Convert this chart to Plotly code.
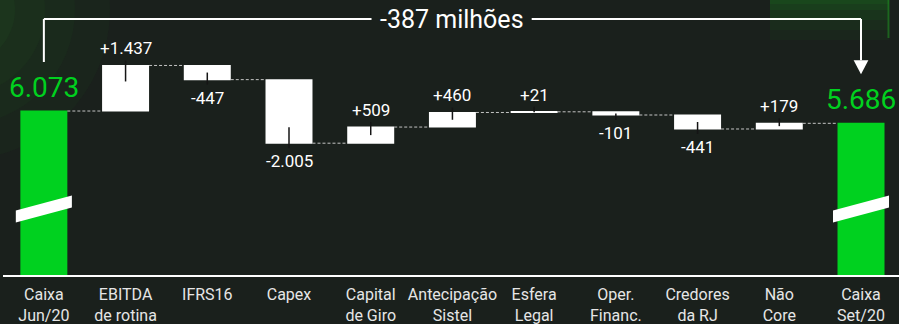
import plotly.graph_objects as go

# ---------------- data ----------------
categories = ["Caixa<br>Jun/20", "EBITDA<br>de rotina", "IFRS16", "Capex", "Capital<br>de Giro",
              "Antecipação<br>Sistel", "Esfera<br>Legal", "Oper.<br>Financ.", "Credores<br>da RJ",
              "Não<br>Core", "Caixa<br>Set/20"]
start_value = 6073
deltas = [1437, -447, -2005, 509, 460, 21, -101, -441, 179]
end_value = 5686
total_change_label = "-387 milhões"

# ---------------- styling constants ----------------
BG = "#1a201c"
GREEN = "#00d11f"
W, H = 899, 324
ML, MR, MT, MB = 3, 0, 0, 49
PLOT_W = W - ML - MR
PLOT_H = H - MT - MB
Y0 = 900                       # broken axis: visible range starts here
PX_PER_UNIT = 0.0317
Y1 = Y0 + PLOT_H / PX_PER_UNIT
U = 1 / PX_PER_UNIT            # data units per pixel

n = len(categories)
x = list(range(n))
values = [start_value] + deltas + [end_value]
measures = ["absolute"] + ["relative"] * len(deltas) + ["absolute"]


def fmt(v, sign=False):
    s = f"{abs(v):,}".replace(",", ".")
    if v < 0:
        return "-" + s
    return ("+" + s) if sign else s


def px_x(p):
    return (p - ML) / PLOT_W


def px_y(p):
    return (PLOT_H + MT - p) / PLOT_H


fig = go.Figure()

fig.add_trace(go.Waterfall(
    x=x, y=values, measure=measures,
    width=[0.575] * n,
    increasing=dict(marker=dict(color="white", line=dict(width=0))),
    decreasing=dict(marker=dict(color="white", line=dict(width=0))),
    totals=dict(marker=dict(color=GREEN, line=dict(width=0))),
    connector=dict(mode="between", line=dict(color="#c4c4c4", width=1, dash="3px,2px")),
    hoverinfo="skip", showlegend=False,
))

annotations = []
shapes = []

# cumulative levels and small dark ticks at the labelled edge of each delta bar
level = start_value
for i, d in enumerate(deltas, start=1):
    level = level + d
    end = level
    sgn = 1 if d > 0 else -1
    inside = min(abs(d) / 2, 16 * U)
    fig.add_trace(go.Scatter(
        x=[i, i], y=[end + sgn * 5 * U, end - sgn * inside],
        mode="lines", line=dict(color="#151515", width=1.5),
        hoverinfo="skip", showlegend=False))
    annotations.append(dict(
        x=i, y=end, xref="x", yref="y", text=fmt(d, sign=True), showarrow=False,
        yanchor="bottom" if d > 0 else "top", yshift=5 if d > 0 else -6,
        font=dict(size=17, color="white", family="Roboto")))

# total labels
for i, v in [(0, start_value), (n - 1, end_value)]:
    annotations.append(dict(
        x=i, y=v, xref="x", yref="y", text=fmt(v), showarrow=False,
        yanchor="bottom", yshift=5,
        font=dict(size=28, color=GREEN, family="Roboto")))

# axis break marks on the total bars
BREAK_AT = 2980
for i in (0, n - 1):
    hw = 0.343
    sl = 7.5 * U
    th = 12 * U
    path = (f"M {i-hw},{BREAK_AT - sl - th/2} L {i+hw},{BREAK_AT + sl - th/2} "
            f"L {i+hw},{BREAK_AT + sl + th/2} L {i-hw},{BREAK_AT - sl + th/2} Z")
    shapes.append(dict(type="path", path=path, xref="x", yref="y",
                       fillcolor="white", line=dict(width=0), layer="above"))

# bracket with total change
bracket_y = Y0 + (PLOT_H - 19) * U
left_bottom = start_value + 49 * U
arrow_tip = end_value + 49 * U
arrow_base = arrow_tip + 14 * U
line_style = dict(color="white", width=2)
shapes += [
    dict(type="line", xref="x", yref="y", x0=0, x1=0, y0=left_bottom, y1=bracket_y, line=line_style),
    dict(type="line", xref="x", yref="y", x0=0, x1=4.01, y0=bracket_y, y1=bracket_y, line=line_style),
    dict(type="line", xref="x", yref="y", x0=5.97, x1=n - 1, y0=bracket_y, y1=bracket_y, line=line_style),
    dict(type="line", xref="x", yref="y", x0=n - 1, x1=n - 1, y0=bracket_y, y1=arrow_base, line=line_style),
    dict(type="path", xref="x", yref="y",
         path=f"M {n-1-0.09},{arrow_base} L {n-1+0.09},{arrow_base} L {n-1},{arrow_tip} Z",
         fillcolor="white", line=dict(width=0)),
]
annotations.append(dict(x=(n - 1) / 2, y=bracket_y, xref="x", yref="y", text=total_change_label,
                        showarrow=False, font=dict(size=25, color="white", family="Roboto")))

# background glows (decoration)
glows = []
for r, op in [(150, 0.05), (115, 0.05), (85, 0.06), (55, 0.07), (30, 0.07)]:
    cx, cy = -40, 10
    glows.append(dict(type="circle", xref="paper", yref="paper",
                      x0=px_x(cx - r), x1=px_x(cx + r), y0=px_y(cy + r), y1=px_y(cy - r),
                      fillcolor="#2f8a2a", opacity=op, line=dict(width=0), layer="below"))
for d, op in [(40, 0.05), (30, 0.06), (20, 0.08), (10, 0.1), (4, 0.1)]:
    glows.append(dict(type="rect", xref="paper", yref="paper",
                      x0=px_x(770), x1=px_x(889), y0=px_y(d), y1=px_y(-2),
                      fillcolor="#1f9a22", opacity=op, line=dict(width=0), layer="below"))
glows.append(dict(type="line", xref="paper", yref="paper", x0=px_x(888.5), x1=px_x(888.5),
                  y0=px_y(38), y1=px_y(0), line=dict(color="#1f8a22", width=2), opacity=0.6,
                  layer="below"))
shapes = glows + shapes

fig.update_layout(
    width=W, height=H,
    margin=dict(l=ML, r=MR, t=MT, b=MB, autoexpand=False),
    paper_bgcolor=BG, plot_bgcolor="rgba(0,0,0,0)",
    showlegend=False,
    annotations=annotations, shapes=shapes,
    xaxis=dict(range=[-0.5, 10.465], tickvals=x, ticktext=categories, automargin=False,
               showgrid=False, zeroline=False, showline=True, linecolor="white", linewidth=2,
               ticks="", ticklabelstandoff=4,
               tickfont=dict(size=16, color="#e6e6e6", family="Roboto"), fixedrange=True),
    yaxis=dict(range=[Y0, Y1], visible=False, showgrid=False, zeroline=False, fixedrange=True,
               automargin=False),
)

fig.write_html("out.html", config={"displayModeBar": False},
               post_script="document.body.style.margin='0';document.body.style.overflow='hidden';"
                           "document.body.style.background='" + BG + "';")
